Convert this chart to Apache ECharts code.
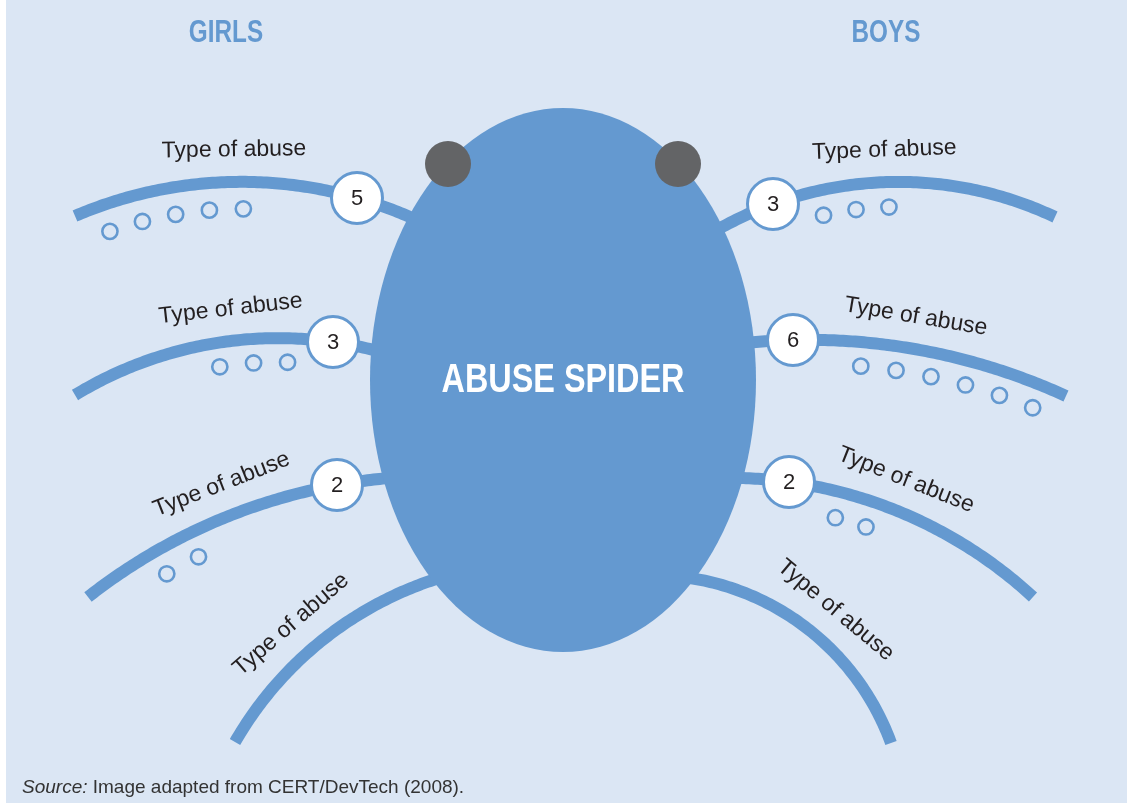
<!DOCTYPE html>
<html><head><meta charset="utf-8">
<script src="https://cdn.jsdelivr.net/npm/echarts@6/dist/echarts.min.js"></script>
<style>html,body{margin:0;padding:0;background:#fff}#c{width:1127px;height:803px}</style>
</head><body><div id="c"></div>
<script>
// ---- data ----
const sides = ['GIRLS', 'BOYS'];
const legLabels = ['Type of abuse', 'Type of abuse', 'Type of abuse', 'Type of abuse'];
const girlsCounts = [5, 3, 2, null];
const boysCounts = [3, 6, 2, null];
const centerTitle = 'ABUSE SPIDER';
const sourceLead = 'Source:';
const sourceNote = 'Image adapted from CERT/DevTech (2008).';

// ---- layout (hidden axes in pixel units) ----
const BLUE = '#6499d0';
const LEGS = {
  GIRLS: [
    {B: [357, 198], M: [230, 182], O: [75, 216], ext: 100, dot0: 115, off: 27, gap: 34, lab: 124},
    {B: [333, 342], M: [200, 346], O: [75, 395], ext: 100, dot0: 45, off: 24, gap: 34, lab: 99},
    {B: [337, 485], M: [203, 527], O: [88, 597], ext: 100, dot0: 158, off: 25, gap: 36, lab: 108},
    {B: [433, 580], M: [333, 632], O: [235, 742], ext: 60, dot0: 0, off: 25, gap: 34, lab: 140}
  ],
  BOYS: [
    {B: [773, 204], M: [890, 182], O: [1055, 217], ext: 100, dot0: 47, off: 25, gap: 33, lab: 115},
    {B: [793, 340], M: [920, 350], O: [1066, 396], ext: 100, dot0: 70, off: 24, gap: 35.5, lab: 118},
    {B: [789, 482], M: [907, 515], O: [1033, 597], ext: 100, dot0: 54, off: 26, gap: 32, lab: 109},
    {B: [690, 578], M: [813, 633], O: [891, 743], ext: 60, dot0: 0, off: 25, gap: 34, lab: 139}
  ]
};
const LAB_OFF = 32;

function circle(p1, p2, p3) {
  const ax = p1[0], ay = p1[1], bx = p2[0], by = p2[1], cx = p3[0], cy = p3[1];
  const d = 2 * (ax * (by - cy) + bx * (cy - ay) + cx * (ay - by));
  const ux = ((ax*ax + ay*ay) * (by - cy) + (bx*bx + by*by) * (cy - ay) + (cx*cx + cy*cy) * (ay - by)) / d;
  const uy = ((ax*ax + ay*ay) * (cx - bx) + (bx*bx + by*by) * (ax - cx) + (cx*cx + cy*cy) * (bx - ax)) / d;
  return {ux: ux, uy: uy, r: Math.hypot(ax - ux, ay - uy)};
}
const TAU = Math.PI * 2;
function sweep(a0, a1, d) { return (((d * (a1 - a0)) % TAU) + TAU) % TAU; }
function geom(L) {
  const c = circle(L.B, L.M, L.O);
  const ang = p => Math.atan2(p[1] - c.uy, p[0] - c.ux);
  const aB = ang(L.B), aM = ang(L.M), aO = ang(L.O);
  const dir = sweep(aB, aM, 1) < sweep(aB, aO, 1) ? 1 : -1;
  return {ux: c.ux, uy: c.uy, r: c.r, aB: aB, dir: dir, len: sweep(aB, aO, dir) * c.r};
}
function atAngle(g, a, rr) { return [g.ux + rr * Math.cos(a), g.uy + rr * Math.sin(a)]; }
function angAt(g, s) { return g.aB + g.dir * s / g.r; }

const GEOM = sides.map(sd => LEGS[sd].map(geom));
const COUNTS = [girlsCounts, boysCounts];

const legData = [];
sides.forEach((sd, si) => legLabels.forEach((lb, li) => legData.push([si, li])));

function renderLeg(params, api) {
  const si = api.value(0), li = api.value(1);
  const L = LEGS[sides[si]][li], g = GEOM[si][li];
  const pts = [];
  for (let s = -L.ext; s <= g.len; s += 3) pts.push(api.coord(atAngle(g, angAt(g, s), g.r)));
  pts.push(api.coord(atAngle(g, angAt(g, g.len), g.r)));
  return {type: 'polyline', shape: {points: pts},
    style: {stroke: BLUE, lineWidth: 12, fill: null, lineCap: 'butt', lineJoin: 'round'}};
}

function renderMarks(params, api) {
  const si = api.value(0), li = api.value(1);
  const L = LEGS[sides[si]][li], g = GEOM[si][li];
  const cnt = COUNTS[si][li];
  const children = [];
  const aL = angAt(g, L.lab);
  const lp = api.coord(atAngle(g, aL, g.r + LAB_OFF));
  let tx = -Math.sin(aL), ty = Math.cos(aL);
  if (tx < 0) { tx = -tx; ty = -ty; }
  children.push({type: 'text', x: lp[0], y: lp[1], rotation: -Math.atan2(ty, tx),
    style: {text: legLabels[li], fill: '#231f20', font: '23px "Liberation Sans", Arial, sans-serif',
      align: 'center', verticalAlign: 'middle'}});
  if (cnt != null) {
    const rd = g.r - L.off;
    for (let k = 0; k < cnt; k++) {
      const a = angAt(g, L.dot0) + g.dir * k * L.gap / rd;
      const p = api.coord(atAngle(g, a, rd));
      children.push({type: 'circle', shape: {cx: p[0], cy: p[1], r: 7.6},
        style: {fill: 'rgba(0,0,0,0)', stroke: BLUE, lineWidth: 2.6}});
    }
    const b = api.coord(L.B);
    children.push({type: 'circle', shape: {cx: b[0], cy: b[1], r: 25.5},
      style: {fill: '#ffffff', stroke: BLUE, lineWidth: 3}});
    children.push({type: 'text', x: b[0], y: b[1] + 1,
      style: {text: String(cnt), fill: '#231f20', font: '22px "Liberation Sans", Arial, sans-serif',
        align: 'center', verticalAlign: 'middle'}});
  }
  return {type: 'group', children: children};
}

const chart = echarts.init(document.getElementById('c'), null, {renderer: 'canvas'});
const SANS = '"Liberation Sans", Arial, sans-serif';
chart.setOption({
  animation: false,
  backgroundColor: '#dbe6f4',
  grid: {left: 0, right: 0, top: 0, bottom: 0},
  xAxis: {type: 'value', min: 0, max: 1127, show: false},
  yAxis: {type: 'value', min: 0, max: 803, inverse: true, show: false},
  graphic: {elements: [
    {type: 'rect', shape: {x: 0, y: 0, width: 6, height: 803}, style: {fill: '#ffffff'}, z: 50},
    {type: 'circle', x: 563, y: 380, scaleX: 193 / 272, shape: {cx: 0, cy: 0, r: 272}, style: {fill: BLUE}, z: 2},
    {type: 'circle', shape: {cx: 448, cy: 164, r: 23}, style: {fill: '#636466'}, z: 4},
    {type: 'circle', shape: {cx: 678, cy: 164, r: 23}, style: {fill: '#636466'}, z: 4},
    {type: 'text', x: 563, y: 381, scaleX: 0.79, z: 4, style: {text: centerTitle, fill: '#ffffff',
      font: 'bold 41px ' + SANS, align: 'center', verticalAlign: 'middle'}},
    {type: 'text', x: 226, y: 33, scaleX: 0.76, z: 4, style: {text: sides[0], fill: BLUE,
      font: 'bold 32px ' + SANS, align: 'center', verticalAlign: 'middle'}},
    {type: 'text', x: 886, y: 33, scaleX: 0.76, z: 4, style: {text: sides[1], fill: BLUE,
      font: 'bold 32px ' + SANS, align: 'center', verticalAlign: 'middle'}},
    {type: 'text', x: 22, y: 788, z: 4, style: {text: '{i|' + sourceLead + '} ' + sourceNote,
      fill: '#333333', font: '19px ' + SANS, align: 'left', verticalAlign: 'middle',
      rich: {i: {fontStyle: 'italic', fontSize: 19, fontFamily: SANS, fill: '#333333'}}}}
  ]},
  series: [
    {type: 'custom', name: 'legs', coordinateSystem: 'cartesian2d', z: 1, silent: true,
      data: legData, renderItem: renderLeg},
    {type: 'custom', name: 'marks', coordinateSystem: 'cartesian2d', z: 3, silent: true,
      data: legData, renderItem: renderMarks}
  ]
});
</script>
</body></html>
